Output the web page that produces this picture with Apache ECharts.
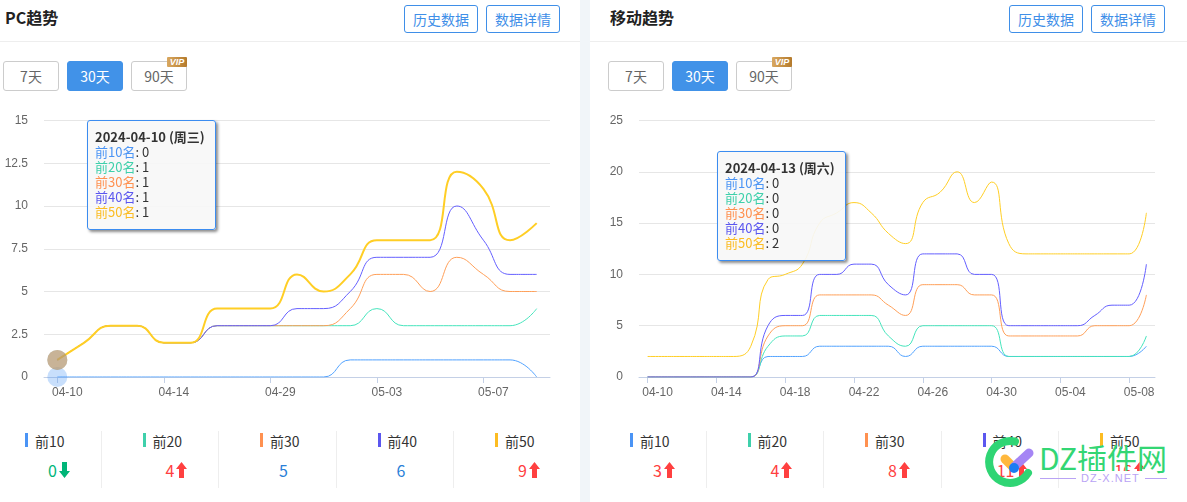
<!DOCTYPE html>
<html>
<head>
<meta charset="utf-8">
<script src="https://cdn.jsdelivr.net/npm/echarts@6/dist/echarts.min.js"></script>
<style>
html,body{margin:0;padding:0;background:#f1f5f9;font-family:"Noto Sans CJK SC","Noto Sans",sans-serif;overflow:hidden}
#page{position:relative;width:1187px;height:502px;overflow:hidden}
.panel{position:absolute;top:0;height:502px;background:#fff}
.abs{position:absolute;box-sizing:border-box}
.hr{position:absolute;top:41px;left:0;right:0;height:1px;background:#eee}
.title{font-size:16px;font-weight:700;color:#222;top:5px;line-height:24px;white-space:nowrap}
.btn{top:5px;height:28px;width:74px;border:1px solid #3f8fe8;border-radius:3px;color:#3f8fe8;font-size:14px;line-height:26px;text-align:center}
.tab{top:61px;height:30px;border:1px solid #ccc;border-radius:3px;color:#666;font-size:14px;line-height:28px;text-align:center;background:#fff}
.tab.on{background:#4192e8;border-color:#4192e8;color:#fff}
.vip{top:57px;width:20px;height:10px;background:linear-gradient(90deg,#d9a860,#b47a2c);border-radius:1px;color:#fff;font:italic bold 9px/10px "Liberation Sans",sans-serif;text-align:center}
.chart{position:absolute;top:100px;height:320px}
.bar{top:433px;width:3px;height:14px}
.lab{top:431px;font-size:14px;line-height:20px;color:#333;white-space:nowrap}
.val{top:458px;font-size:16px;line-height:24px;text-align:right;white-space:nowrap}
.div{top:431px;width:1px;height:57px;background:#eee}
.arrow{top:462px}
.wm{font-family:"Liberation Sans",sans-serif;white-space:nowrap}
</style>
</head>
<body>
<div id="page"></div>
<script>
var seriesNames = ['前10名', '前20名', '前30名', '前40名', '前50名']
var legendNames = ['前10', '前20', '前30', '前40', '前50']
var seriesColors = ['#4a94f5', '#3fd0ab', '#ff9150', '#5b57ef', '#fcbc22']

// PC
var pcDays = ['04-10','04-11','04-12','04-13','04-14','04-15','04-16','04-27','04-29','04-30','05-01','05-02','05-03','05-04','05-05','05-06','05-07','05-08','05-09']
var pcTop10 = [0,0,0,0,0,0,0,0,0,0,0,1,1,1,1,1,1,1,0]
var pcTop20 = [1,2,3,3,2,2,3,3,3,3,3,3,4,3,3,3,3,3,4]
var pcTop30 = [1,2,3,3,2,2,3,3,3,3,3,4,6,6,5,7,6,5,5]
var pcTop40 = [1,2,3,3,2,2,3,3,3,4,4,5,7,7,7,10,8,6,6]
var pcTop50 = [1,2,3,3,2,2,4,4,4,6,5,6,8,8,8,12,11,8,9]
var pcTicks = [0, 2.5, 5, 7.5, 10, 12.5, 15]
var pcValues = [0, 4, 5, 6, 9]
var pcTrend = ['down', 'up', '', '', 'up']

// 移动
var mobileDays = ['04-10','04-11','04-12','04-13','04-14','04-15','04-16','04-17','04-18','04-19','04-20','04-21','04-22','04-23','04-24','04-25','04-26','04-27','04-28','04-29','04-30','05-01','05-02','05-03','05-04','05-05','05-06','05-07','05-08','05-09']
var mobileTop10 = [0,0,0,0,0,0,0,2,2,2,3,3,3,3,3,2,3,3,3,3,3,2,2,2,2,2,2,2,2,3]
var mobileTop20 = [0,0,0,0,0,0,0,3,4,4,6,6,6,6,4,3,5,5,5,5,5,2,2,2,2,2,2,2,2,4]
var mobileTop30 = [0,0,0,0,0,0,0,4,5,5,8,8,8,8,7,6,9,9,9,8,8,4,4,4,4,4,5,5,5,8]
var mobileTop40 = [0,0,0,0,0,0,0,5,6,6,10,10,11,11,9,8,12,12,12,10,10,5,5,5,5,5,6,7,7,11]
var mobileTop50 = [2,2,2,2,2,2,3,9.5,10,11,15,16,17,16,14,13,17,18,20,17,19,13,12,12,12,12,12,12,12,16]
var mobileTicks = [0, 5, 10, 15, 20, 25]
var mobileValues = [3, 4, 8, 11, 16]
var mobileTrend = ['up', 'up', 'up', 'up', 'up']

var page = document.getElementById('page')

function el(parent, cls, left, text, extra) {
    var d = document.createElement('div')
    d.className = cls
    d.style.left = left + 'px'
    if (text) d.textContent = text
    if (extra) d.style.cssText += extra
    parent.appendChild(d)
    return d
}

function arrowSvg(x, up) {
    var color = up ? '#ff4040' : '#00b578'
    var pts = up ? '5.5,0 11,7 8,7 8,16 3,16 3,7 0,7' : '3,0 8,0 8,9 11,9 5.5,16 0,9 3,9'
    var d = el(page, 'abs arrow', x, '')
    d.innerHTML = '<svg width="11" height="16" style="display:block"><polygon points="' + pts + '" fill="' + color + '"/></svg>'
}

function panel(left, width, title, titleX, btnX, tabX, barX, values, trend) {
    el(page, 'panel', left, '', 'width:' + width + 'px')
    el(page, 'abs title', titleX, title)
    el(page, 'abs btn', btnX[0], '历史数据')
    el(page, 'abs btn', btnX[1], '数据详情')
    el(page, 'abs tab', tabX[0], '7天', 'width:56px')
    el(page, 'abs tab on', tabX[1], '30天', 'width:56px')
    el(page, 'abs tab', tabX[2], '90天', 'width:56px')
    el(page, 'abs vip', tabX[2] + 36, 'VIP')
    var hr = el(page, 'hr', left, '', 'width:' + width + 'px')
    for (var i = 0; i < 5; i++) {
        var x = barX + 117.5 * i
        if (i > 0) el(page, 'abs div', x - 42, '')
        el(page, 'abs bar', x, '', 'background:' + seriesColors[i])
        el(page, 'abs lab', x + 10, legendNames[i])
        var color = trend[i] == 'up' ? '#ff4040' : (trend[i] == 'down' ? '#00b578' : '#2a7fd8')
        var right = trend[i] ? 32 : 28
        el(page, 'abs val', x + right - 40, String(values[i]), 'width:40px;color:' + color)
        if (trend[i]) arrowSvg(x + 33.5, trend[i] == 'up')
    }
}

function trendChart(left, width, gridWidth, gridLeft, days, allData, ticks, thickTop, tipIndex, tipPos, dots) {
    var box = el(page, 'chart', left, '', 'width:' + width + 'px')
    var chart = echarts.init(box)
    var series = []
    for (let i = 0; i < 5; i++) {
        let s = {
            name: seriesNames[i],
            type: 'line',
            data: allData[i],
            smooth: true,
            symbol: 'none',
            animation: false,
            lineStyle: {width: (thickTop && i == 4) ? 2 : 1, color: seriesColors[i]},
            itemStyle: {color: seriesColors[i]}
        }
        if (dots) {
            s.markPoint = {
                animation: false,
                symbol: 'circle',
                symbolSize: 20,
                label: {show: false},
                itemStyle: {color: seriesColors[i], opacity: 0.3},
                data: [{coord: [days[tipIndex], allData[i][tipIndex]]}]
            }
        }
        series.push(s)
    }
    var option = {
        animation: false,
        grid: {left: gridLeft, top: 20.5, width: gridWidth, height: 256.5},
        tooltip: {
            trigger: 'axis',
            axisPointer: {type: 'none'},
            position: tipPos,
            transitionDuration: 0,
            alwaysShowContent: true,
            backgroundColor: 'rgba(247,247,247,0.92)',
            borderColor: '#3b8cf0',
            borderWidth: 1,
            padding: [8, 7, 11, 7],
            extraCssText: 'width:129px;height:110px;box-sizing:border-box;border-radius:3px;box-shadow:2px 2px 3px rgba(0,0,0,.45);',
            formatter: function (params) {
                var week = tipPos[0] < 100 ? '2024-04-10 (周三)' : '2024-04-13 (周六)'
                var html = '<div style="font:700 13px/15px \'Noto Sans CJK SC\';color:#333;white-space:nowrap">' + week + '</div>'
                params.forEach(function (p) {
                    html += '<div style="font:13px/15px \'Noto Sans CJK SC\';color:#333"><span style="color:' + p.color + '">' + p.seriesName + '</span>: ' + p.value + '</div>'
                })
                return html
            }
        },
        xAxis: {
            type: 'category',
            data: days,
            axisLine: {lineStyle: {color: '#c4d0e6'}},
            axisTick: {show: true, alignWithLabel: true, interval: 3, length: 6, lineStyle: {color: '#c4d0e6'}},
            axisLabel: {interval: 3, color: '#666', fontSize: 12, margin: 10, padding: [0, 0, 0, 20], fontFamily: 'Liberation Sans', hideOverlap: false}
        },
        yAxis: {
            type: 'value',
            min: ticks[0],
            max: ticks[ticks.length - 1],
            interval: ticks[1] - ticks[0],
            axisLine: {show: false},
            axisTick: {show: false},
            axisLabel: {color: '#666', fontSize: 12, margin: 16, padding: [2, 0, 0, 0], fontFamily: 'Liberation Sans'},
            splitLine: {lineStyle: {color: '#e6e6e6'}}
        },
        series: series
    }
    chart.setOption(option)
    chart.dispatchAction({type: 'showTip', seriesIndex: 0, dataIndex: tipIndex})
}

panel(0, 580, 'PC趋势', 5, [404, 486], [3, 67, 131], 25, pcValues, pcTrend)
panel(590, 597, '移动趋势', 610, [1009, 1091], [608, 672, 736], 630, mobileValues, mobileTrend)

trendChart(0, 580, 506, 44, pcDays, [pcTop10, pcTop20, pcTop30, pcTop40, pcTop50], pcTicks, true, 0, [87, 20], true)
trendChart(590, 597, 516, 49, mobileDays, [mobileTop10, mobileTop20, mobileTop30, mobileTop40, mobileTop50], mobileTicks, false, 3, [127, 51], false)

// 右下角水印
var wm = el(page, 'abs wm', 985, '', 'top:440px;width:200px;height:62px')
wm.innerHTML = '<svg width="60" height="62" style="position:absolute;left:0;top:0;overflow:visible">'
    + '<path d="M30 1.5 A21 21 0 1 0 43 33" fill="none" stroke="#2fd574" stroke-width="8" stroke-linecap="round"/>'
    + '<line x1="20" y1="19" x2="28" y2="27" stroke="#ffb83d" stroke-width="9" stroke-linecap="round"/>'
    + '<line x1="44" y1="13" x2="29" y2="27" stroke="#a585f5" stroke-width="9" stroke-linecap="round"/>'
    + '<circle cx="29" cy="28" r="5" fill="#1d7cf2"/></svg>'
    + '<div style="position:absolute;left:54px;top:-5px;font:30px/44px \'Noto Sans CJK SC\';color:#33d674">DZ插件网</div>'
    + '<div style="position:absolute;left:55px;width:127px;height:1px;top:38px;background:#b9a3f5"></div>'
    + '<div style="position:absolute;left:91px;top:31px;padding:0 5px;background:#fff;font:11px/14px \'Liberation Sans\';letter-spacing:1px;color:#b9a3f5">DZ-X.NET</div>'
</script>
</body>
</html>
